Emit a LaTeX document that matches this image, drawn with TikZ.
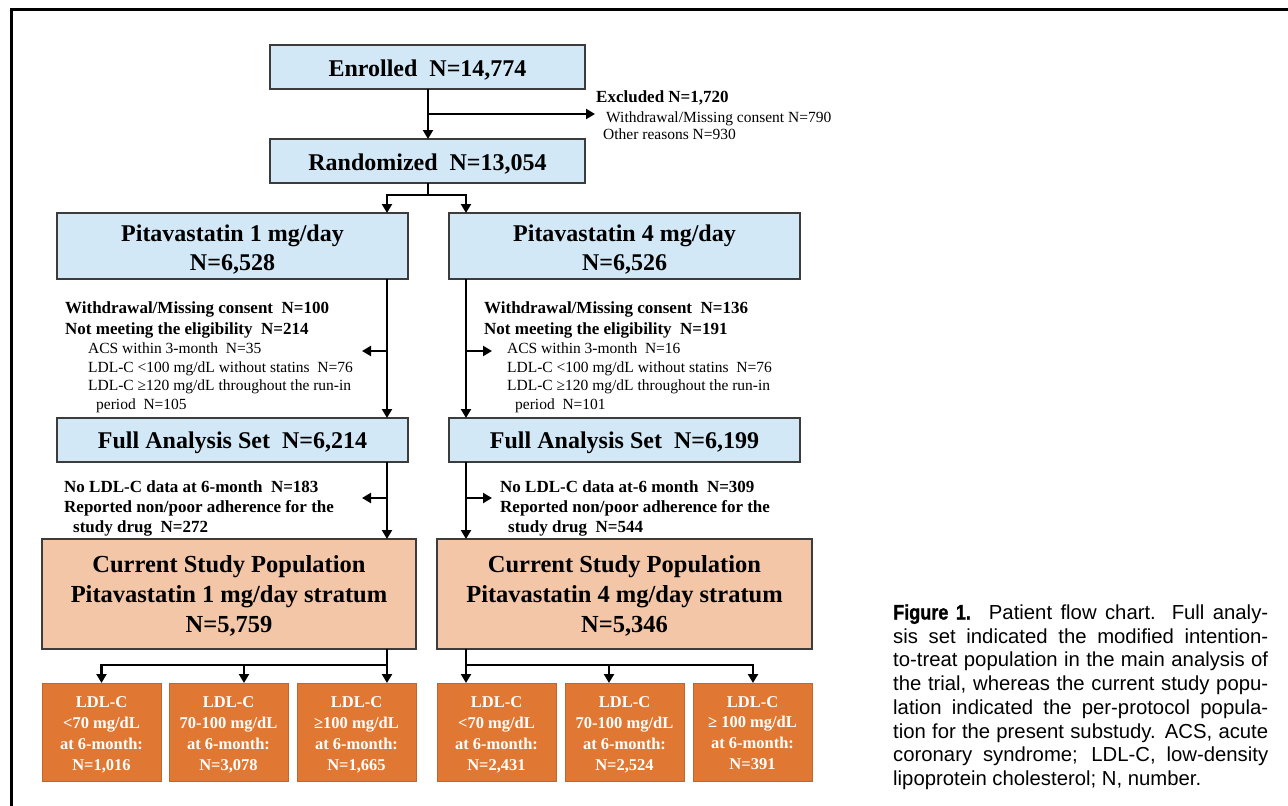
\documentclass[tikz,border=0pt]{standalone}
\usepackage{fontspec}
\setmainfont{Liberation Serif}
\newfontfamily\capfont{Liberation Sans}
\newfontfamily\capfontcond[FakeStretch=0.86,FakeBold=1.2]{Liberation Sans}
\usetikzlibrary{arrows.meta}
\definecolor{lblue}{HTML}{D2E8F6}
\definecolor{peach}{HTML}{F3C6A7}
\definecolor{dorange}{HTML}{E07833}
\definecolor{boxline}{HTML}{3C3C3C}
\begin{document}
\begin{tikzpicture}[x=1pt,y=-1pt,
  box/.style={draw=boxline,line width=1.3pt,inner sep=0pt,outer sep=0pt},
  bluebox/.style={box,fill=lblue},
  peachbox/.style={box,fill=peach},
  ldlbox/.style={draw=dorange!85!black,line width=0.6pt,fill=dorange,inner sep=0pt,outer sep=0pt,minimum width=119pt,minimum height=98pt},
  btext/.style={inner sep=0pt,align=center,font=\bfseries\fontsize{24}{29}\selectfont},
  ptext/.style={inner sep=0pt,align=center,font=\bfseries\fontsize{24.5}{30}\selectfont},
  ltext/.style={inner sep=0pt,align=center,text=white,font=\bfseries\fontsize{16.5}{20.9}\selectfont},
  conn/.style={line width=2.4pt,black},
  arr/.style={conn,-{Triangle[length=9pt,width=10pt]}},
  note/.style={inner sep=0pt,anchor=base west,font=\fontsize{15.5}{18}\selectfont},
  noteb/.style={inner sep=0pt,anchor=base west,font=\bfseries\fontsize{17}{18}\selectfont},
  capline/.style={inner sep=0pt,anchor=base west,font=\capfont\fontsize{20.3}{23.7}\selectfont},
]
\useasboundingbox (0,0) rectangle (1288,806);
% frame
\draw[line width=3pt] (11.5,806) -- (11.5,9.5) -- (1288,9.5);

% helper x coordinates
\coordinate (xM) at (428,0);
\coordinate (xL) at (387,0);
\coordinate (xR) at (466,0);
\coordinate (xLb) at (244,0);
\coordinate (xRb) at (609,0);
\coordinate (xRc) at (753,0);

% main boxes
\node[bluebox,minimum width=315pt,minimum height=44pt] (enr) at (427.5,67) {};
\node[bluebox,minimum width=315pt,minimum height=44pt] (rnd) at (427.5,161) {};
\node[bluebox,minimum width=351pt,minimum height=66pt] (p1) at (232.5,246) {};
\node[bluebox,minimum width=351pt,minimum height=66pt] (p4) at (624.5,246) {};
\node[bluebox,minimum width=351pt,minimum height=44pt] (f1) at (232.5,440) {};
\node[bluebox,minimum width=351pt,minimum height=44pt] (f4) at (624.5,440) {};
\node[peachbox,minimum width=374pt,minimum height=110pt] (c1) at (229,594) {};
\node[peachbox,minimum width=375pt,minimum height=110pt] (c4) at (624.5,594) {};

\node[btext] (enrT) at ([yshift=-3.5pt]enr.center) {Enrolled\ \ N=14,774};
\node[btext] (rndT) at ([yshift=-3pt]rnd.center) {Randomized\ \ N=13,054};
\node[btext] (p1T) at ([yshift=-3.5pt]p1.center) {Pitavastatin 1 mg/day\\N=6,528};
\node[btext] (p4T) at ([yshift=-3.5pt]p4.center) {Pitavastatin 4 mg/day\\N=6,526};
\node[btext] (f1T) at ([yshift=-3pt]f1.center) {Full Analysis Set\ \ N=6,214};
\node[btext] (f4T) at ([yshift=-3pt]f4.center) {Full Analysis Set\ \ N=6,199};
\node[ptext] (c1T) at ([yshift=-1.5pt]c1.center) {Current Study Population\\Pitavastatin 1 mg/day stratum\\N=5,759};
\node[ptext] (c4T) at ([yshift=-1.5pt]c4.center) {Current Study Population\\Pitavastatin 4 mg/day stratum\\N=5,346};

% LDL boxes
\node[ldlbox] (b1a) at (101.5,732) {};
\node[ldlbox] (b1b) at (228.5,732) {};
\node[ldlbox] (b1c) at (356.5,732) {};
\node[ldlbox] (b4a) at (496.5,732) {};
\node[ldlbox] (b4b) at (624.5,732) {};
\node[ldlbox] (b4c) at (752.5,732) {};
\node[ltext] (b1aT) at ([yshift=-2.5pt]b1a.center) {LDL-C\\<70 mg/dL\\at 6-month:\\N=1,016};
\node[ltext] (b1bT) at ([yshift=-2.5pt]b1b.center) {LDL-C\\70-100 mg/dL\\at 6-month:\\N=3,078};
\node[ltext] (b1cT) at ([yshift=-2.5pt]b1c.center) {LDL-C\\≥100 mg/dL\\at 6-month:\\N=1,665};
\node[ltext] (b4aT) at ([yshift=-2.5pt]b4a.center) {LDL-C\\<70 mg/dL\\at 6-month:\\N=2,431};
\node[ltext] (b4bT) at ([yshift=-2.5pt]b4b.center) {LDL-C\\70-100 mg/dL\\at 6-month:\\N=2,524};
\node[ltext] (b4cT) at ([yshift=-1pt]b4c.center) {LDL-C\\≥ 100 mg/dL\\at 6-month:\\N=391};

% excluded
\coordinate (exb) at (428,114);
\coordinate (exTip) at (595,114);
\node[noteb] (exh) at (596,102.5) {Excluded N=1,720};
\node[note] (ex1) at (606,122) {Withdrawal/Missing consent N=790};
\node[note] (ex2) at (603,139.5) {Other reasons N=930};

% left exclusion 1
\node[noteb] (l1) at (65,313.5) {Withdrawal/Missing consent\ \ N=100};
\node[noteb] (l2) at (65,334) {Not meeting the eligibility\ \ N=214};
\node[note] (l3) at (88,353.5) {ACS within 3-month\ \ N=35};
\node[note] (l4) at (88,372.5) {LDL-C <100 mg/dL without statins\ \ N=76};
\node[note] (l5) at (88,390.5) {LDL-C ≥120 mg/dL throughout the run-in};
\node[note] (l6) at (96,409) {period\ \ N=105};
% right exclusion 1
\node[noteb] (r1) at (484,313.5) {Withdrawal/Missing consent\ \ N=136};
\node[noteb] (r2) at (484,334) {Not meeting the eligibility\ \ N=191};
\node[note] (r3) at (507,353.5) {ACS within 3-month\ \ N=16};
\node[note] (r4) at (507,372.5) {LDL-C <100 mg/dL without statins\ \ N=76};
\node[note] (r5) at (507,390.5) {LDL-C ≥120 mg/dL throughout the run-in};
\node[note] (r6) at (515,409) {period\ \ N=101};

% left exclusion 2
\node[noteb] (m1) at (64,492.5) {No LDL-C data at 6-month\ \ N=183};
\node[noteb] (m2) at (64,512.5) {Reported non/poor adherence for the};
\node[noteb] (m3) at (73,532.5) {study drug\ \ N=272};
% right exclusion 2
\node[noteb] (n1) at (500,492.5) {No LDL-C data at-6 month\ \ N=309};
\node[noteb] (n2) at (500,512.5) {Reported non/poor adherence for the};
\node[noteb] (n3) at (508,532.5) {study drug\ \ N=544};

% side arrow coordinates
\coordinate (sL1) at (387,351);
\coordinate (tL1) at (362,351);
\coordinate (sR1) at (466,351);
\coordinate (tR1) at (492,351);
\coordinate (sL2) at (387,498);
\coordinate (tL2) at (362,498);
\coordinate (sR2) at (466,498);
\coordinate (tR2) at (492,498);
\coordinate (split) at (428,195);
\coordinate (bsL) at (387,665);
\coordinate (bsR) at (466,665);

% connectors
\draw[arr] (enr.south -| xM) -- (rnd.north -| xM);
\draw[arr] (exb) -- (exTip);
\draw[conn] (rnd.south -| xM) -- (split);
\draw[arr] (split) -| (p1.north -| xL);
\draw[arr] (split) -| (p4.north -| xR);
\draw[arr] (p1.south -| xL) -- (f1.north -| xL);
\draw[arr] (p4.south -| xR) -- (f4.north -| xR);
\draw[arr] (sL1) -- (tL1);
\draw[arr] (sR1) -- (tR1);
\draw[arr] (f1.south -| xL) -- (c1.north -| xL);
\draw[arr] (f4.south -| xR) -- (c4.north -| xR);
\draw[arr] (sL2) -- (tL2);
\draw[arr] (sR2) -- (tR2);
\draw[conn] (c1.south -| xL) -- (bsL);
\draw[arr] (bsL) -| (b1a.north);
\draw[arr] (bsL) -| (b1b.north -| xLb);
\draw[arr] (bsL) -- (b1c.north -| xL);
\draw[conn] (c4.south -| xR) -- (bsR);
\draw[arr] (bsR) -- (b4a.north -| xR);
\draw[arr] (bsR) -| (b4b.north -| xRb);
\draw[arr] (bsR) -| (b4c.north -| xRc);

% caption
\node[capline] (cap1) at (893,619.5) {\makebox[375pt][s]{{\capfontcond\bfseries\fontsize{21}{23.7}\selectfont Figure 1.}\hspace{18pt}Patient flow chart. Full analy-}};
\node[capline] (cap2) at (893,643.2) {\makebox[375pt][s]{sis set indicated the modified intention-}};
\node[capline] (cap3) at (893,666.9) {\makebox[375pt][s]{to-treat population in the main analysis of}};
\node[capline] (cap4) at (893,690.6) {\makebox[375pt][s]{the trial, whereas the current study popu-}};
\node[capline] (cap5) at (893,714.3) {\makebox[375pt][s]{lation indicated the per-protocol popula-}};
\node[capline] (cap6) at (893,738) {\makebox[375pt][s]{tion for the present substudy. ACS, acute}};
\node[capline] (cap7) at (893,761.7) {\makebox[375pt][s]{coronary syndrome; LDL-C, low-density}};
\node[capline] (cap8) at (893,785.4) {lipoprotein cholesterol; N, number.};
\end{tikzpicture}
\end{document}
